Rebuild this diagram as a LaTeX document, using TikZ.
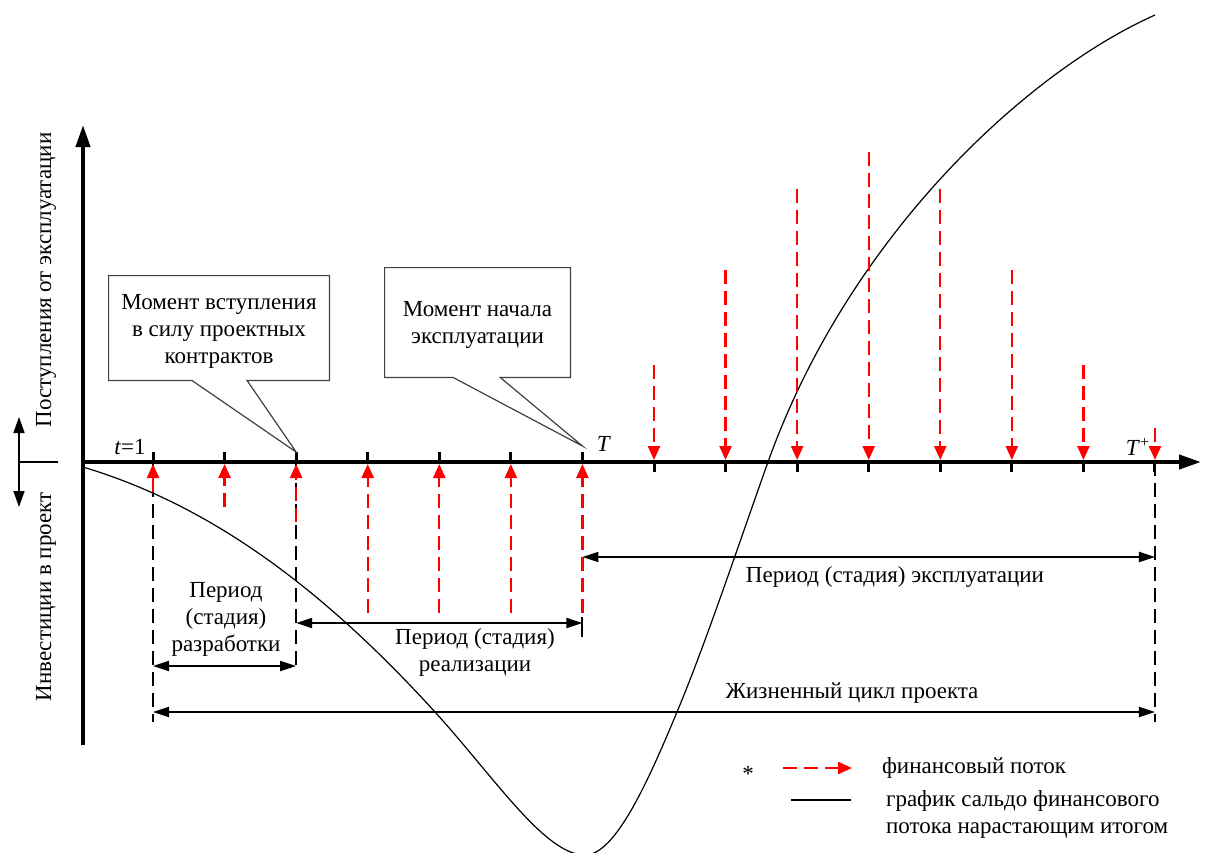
\documentclass[tikz,border=0pt]{standalone}
\usepackage{fontspec}
\setmainfont{Liberation Serif}
\usetikzlibrary{
    positioning,
    calc,
    arrows.meta
}
\definecolor{Fluxo}{HTML}{FF0000}
\definecolor{Moldura}{HTML}{404040}

\begin{document}
\begin{tikzpicture}[
                x=0.5pt, y=-0.5pt,
                every node/.style={align=center, font=\fontsize{11.5}{13.5}\selectfont},
                axisline/.style={line width=2pt, -{Triangle[length=11pt,width=7pt]}},
                tickmark/.style={line width=1.5pt},
                cashflow/.style={draw=Fluxo, line width=1.2pt, dash pattern=on 7pt off 3.5pt,
                    -{Triangle[length=7pt,width=6pt]}},
                guide/.style={line width=0.9pt, dash pattern=on 7pt off 3.5pt},
                spanarrow/.style={line width=1pt,
                    {Triangle[length=8pt,width=5pt]}-{Triangle[length=8pt,width=5pt]}},
                calloutframe/.style={line width=0.6pt, draw=Moldura},
                balance/.style={line width=0.6pt}
            ]

                \useasboundingbox (0,0) rectangle (1209,852);

                % eixos
                \coordinate (O) at (83,462);
                \coordinate (xend) at (1201,462);
                \coordinate (ybot) at (83,745);
                \coordinate (yend) at (83,125);
                \foreach \i in {1,...,15}
                    \coordinate (t\i) at ({153+(\i-1)*71.57},462);

                % curva do saldo acumulado
                \draw[balance] (83,467)
                    .. controls (203,503) and (315,580) .. (435,712)
                    .. controls (495,778) and (545,855) .. (585,855)
                    .. controls (615,855) and (647,784) .. (677,712)
                    .. controls (707,640) and (738,546) .. (768,462)
                    .. controls (848,238) and (1025,73) .. (1155,15);

                % linhas de referencia
                \coordinate (g1) at ($(t1)+(0,260)$);
                \coordinate (g3) at ($(t3)+(0,205)$);
                \coordinate (g15) at ($(t15)+(0,260)$);
                \draw[guide] (t1) -- (g1);
                \draw[guide] (t3) -- (g3);
                \draw[guide] (t15) -- (g15);
                \draw[line width=1pt] ($(t7)+(0,155)$) -- ($(t7)+(0,175)$);

                % investimentos
                \foreach \i/\len in {1/30, 2/45, 3/60, 4/151, 5/151, 6/151, 7/151}
                    \draw[cashflow] ($(t\i)+(0,\len)$) -- ($(t\i)+(0,2)$);

                % receitas
                \foreach \i/\len in {8/97, 9/192, 10/273, 11/310, 12/273, 13/192, 14/97, 15/34}
                    \draw[cashflow] ($(t\i)-(0,\len)$) -- ($(t\i)-(0,2)$);

                \draw[axisline] (O) -- (xend);
                \draw[axisline] (ybot) -- (yend);
                \foreach \i in {1,...,7}
                    \draw[tickmark] (t\i) -- ++(0,-10);
                \foreach \i in {8,...,15}
                    \draw[tickmark] (t\i) -- ++(0,10);

                \node (lbl-t1) at (130,447) {\textit{t}=1};
                \node (lbl-T) at (604,444) {\textit{T}};
                \node (lbl-Tp) at (1138,447) {\textit{T}\textsuperscript{+}};

                % indicador lateral
                \coordinate (ind-top) at (19,417);
                \coordinate (ind-bot) at (19,507);
                \coordinate (ind-mid) at (19,462);
                \coordinate (ind-end) at (58,462);
                \draw[line width=0.8pt,
                    {Triangle[length=8pt,width=5.5pt]}-{Triangle[length=8pt,width=5.5pt]}]
                    (ind-top) -- (ind-bot);
                \draw[line width=0.8pt] (ind-mid) -- (ind-end);
                \node[rotate=90] (lbl-in) at (46,280) {Поступления от эксплуатации};
                \node[rotate=90] (lbl-out) at (46,597) {Инвестиции в проект};

                % chamadas
                \node[minimum width=110pt, minimum height=52pt] (vstup) at (219,328) {};
                \node (vstup-txt) at (219,331) {
                    Момент вступления\\
                    в силу проектных\\
                    контрактов
                };
                \coordinate (tip1) at ($(t3)+(0,-10)$);
                \draw[calloutframe]
                    ($(vstup.south west)!0.377!(vstup.south east)$) -- (vstup.south west)
                    -- (vstup.north west) -- (vstup.north east) -- (vstup.south east)
                    -- ($(vstup.south west)!0.627!(vstup.south east)$) -- (tip1) -- cycle;

                \node[minimum width=92.5pt, minimum height=54.5pt] (nachalo) at (477.5,322.5) {};
                \node (nachalo-txt) at (477.5,325) {
                    Момент начала\\
                    эксплуатации
                };
                \coordinate (tip2) at ($(t7)+(0,-16)$);
                \draw[calloutframe]
                    ($(nachalo.south west)!0.368!(nachalo.south east)$) -- (nachalo.south west)
                    -- (nachalo.north west) -- (nachalo.north east) -- (nachalo.south east)
                    -- ($(nachalo.south west)!0.622!(nachalo.south east)$) -- (tip2) -- cycle;

                % periodos
                \coordinate (dev-a) at (t1 |- 0,666);
                \coordinate (dev-b) at (t3 |- 0,666);
                \coordinate (real-a) at (t3 |- 0,623);
                \coordinate (real-b) at (t7 |- 0,623);
                \coordinate (expl-a) at (t7 |- 0,557);
                \coordinate (expl-b) at (t15 |- 0,557);
                \coordinate (life-a) at (t1 |- 0,712);
                \coordinate (life-b) at (t15 |- 0,712);

                \draw[spanarrow] (dev-a) -- (dev-b);
                \draw[spanarrow] (real-a) -- (real-b);
                \draw[spanarrow] (expl-a) -- (expl-b);
                \draw[spanarrow] (life-a) -- (life-b);

                \node (lbl-dev) at (226,619) {Период\\(стадия)\\разработки};
                \node (lbl-real) at (475,652) {Период (стадия)\\реализации};
                \node (lbl-expl) at (895,577) {Период (стадия) эксплуатации};
                \node (lbl-life) at (852,693) {Жизненный цикл проекта};

                % legenda
                \node (lg-star) at (748,774) {*};
                \coordinate (lg-a) at (783,768);
                \coordinate (lg-b) at (852,768);
                \draw[cashflow] (lg-a) -- (lg-b);
                \node[anchor=west] (lg-flow) at (875,768) {финансовый поток};
                \coordinate (lg-c) at (791,800);
                \coordinate (lg-d) at (851,800);
                \draw[balance] (lg-c) -- (lg-d);
                \node[anchor=west, align=left] (lg-saldo) at (879,814) {
                    график сальдо финансового\\
                    потока нарастающим итогом
                };

            \end{tikzpicture}
\end{document}
